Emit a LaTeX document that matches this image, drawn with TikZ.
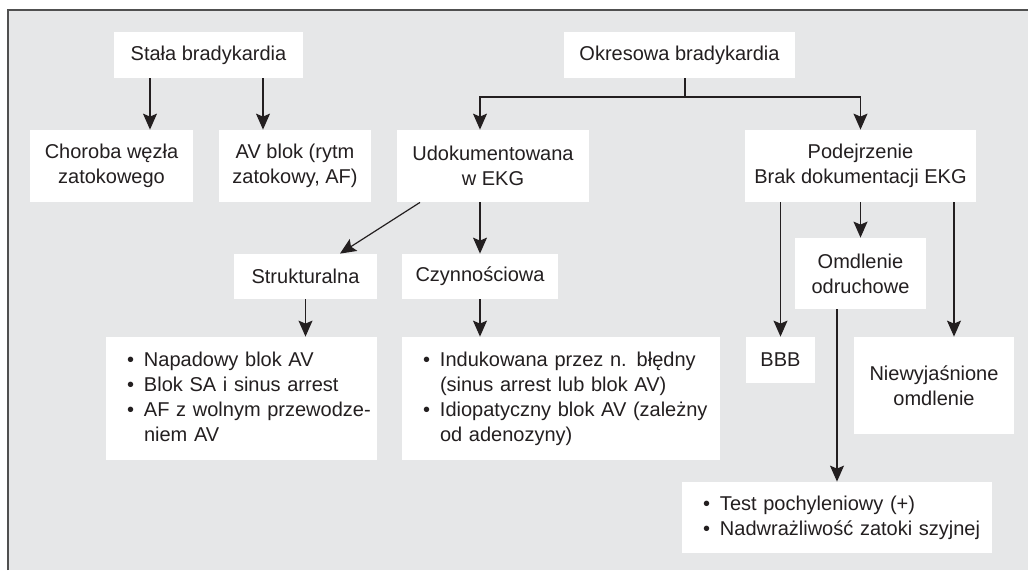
\documentclass[tikz,border=0pt]{standalone}
\usepackage{fontspec}
\setmainfont{Liberation Sans}
\usepackage{tikz}
\usetikzlibrary{arrows.meta,calc}
\definecolor{tlo}{HTML}{E6E7E8}
\definecolor{ramka}{HTML}{505050}
\definecolor{tekst}{HTML}{231F20}
\newcommand{\pkt}{\makebox[8.5pt][l]{\textbullet}}
\newcommand{\wci}{\hspace*{8.5pt}}

\begin{document}
\begin{tikzpicture}[x=0.5pt, y=-0.5pt,
  box/.style={fill=white, inner sep=0pt, align=center, text=tekst, font=\fontsize{10}{12.5}\selectfont},
  lista/.style={box, align=left, inner xsep=10.5pt, inner ysep=0pt},
  arr/.style={-{Stealth[length=8pt,width=7pt,inset=1.5pt]}, line width=0.6pt, tekst},
  lin/.style={line width=0.6pt, tekst}]
\useasboundingbox (0,0) rectangle (1028,570);
\fill[tlo] (8,10) rectangle (1028,570);
\draw[ramka, line width=0.8pt] (8,570) -- (8,10) -- (1028,10);
% gorny rzad
\node[box, minimum width=94.5pt, minimum height=23pt] (stala) at (208.5,55) {Stała bradykardia};
\node[box, minimum width=115.5pt, minimum height=23pt] (okres) at (679.5,55) {Okresowa bradykardia};
\node[box, minimum width=81.5pt, minimum height=36pt] (chor) at (111.5,166) {Choroba węzła\\zatokowego};
\node[box, minimum width=76pt, minimum height=36pt] (avb) at (295,166) {AV blok (rytm\\zatokowy, AF)};
\node[box, minimum width=96pt, minimum height=36pt] (udok) at (493,166) {Udokumentowana\\w EKG};
\node[box, minimum width=115.5pt, minimum height=36pt] (podej) at (860.5,166) {Podejrzenie\\Brak dokumentacji EKG};
% srodek
\node[box, minimum width=71.5pt, minimum height=22.5pt] (struk) at (305.5,276.5) {Strukturalna};
\node[box, minimum width=78pt, minimum height=22.5pt] (czyn) at (480,276.5) {Czynnościowa};
\node[box, minimum width=65.5pt, minimum height=35.5pt] (odruch) at (860.5,273.5) {Omdlenie\\odruchowe};
\node[box, minimum width=34.5pt, minimum height=23pt] (bbb) at (780.5,360) {BBB};
\node[box, minimum width=80pt, minimum height=48.5pt] (niew) at (934,385.5) {Niewyjaśnione\\omdlenie};
% listy
\node[lista, text width=114.5pt, minimum height=61.5pt] (lst1) at (241.5,398.5)
  {\begin{tabular}{@{}l@{}}\pkt Napadowy blok AV\\ \pkt Blok SA i sinus arrest\\ \pkt AF z wolnym przewodze-\\ \wci niem AV\end{tabular}};
\node[lista, text width=138pt, minimum height=61.5pt] (lst2) at (561,398.5)
  {\begin{tabular}{@{}l@{}}\pkt Indukowana przez n. błędny\\ \wci (sinus arrest lub blok AV)\\ \pkt Idiopatyczny blok AV (zależny\\ \wci od adenozyny)\end{tabular}};
\node[lista, text width=134pt, minimum height=35.5pt] (lst3) at (837,517.5)
  {\begin{tabular}{@{}l@{}}\pkt Test pochyleniowy (+)\\ \pkt Nadwrażliwość zatoki szyjnej\end{tabular}};
% polaczenia
\coordinate (rozw) at (685,97);
\coordinate (nw) at ($(niew.north)+(20,0)$);
\draw[lin] ($(okres.south)+(5.5,0)$) -- (rozw);
\draw[arr] (rozw) -| ($(udok.north)+(-13,0)$);
\draw[arr] (rozw) -| (podej.north);
\path[arr]
($(stala.south)+(-58.5,0)$) edge ($(chor.north)+(38.5,0)$)
($(stala.south)+(54.5,0)$) edge ($(avb.north)+(-32,0)$)
($(udok.south)+(-73,0)$) edge ($(struk.north)+(34.5,0)$)
($(udok.south)+(-13,0)$) edge (czyn.north)
(struk.south) edge (struk.south |- lst1.north)
(czyn.south) edge (czyn.south |- lst2.north)
(bbb.north |- podej.south) edge (bbb.north)
(podej.south) edge (odruch.north)
(nw |- podej.south) edge (nw)
(lst3.north |- odruch.south) edge (lst3.north);
\end{tikzpicture}
\end{document}
